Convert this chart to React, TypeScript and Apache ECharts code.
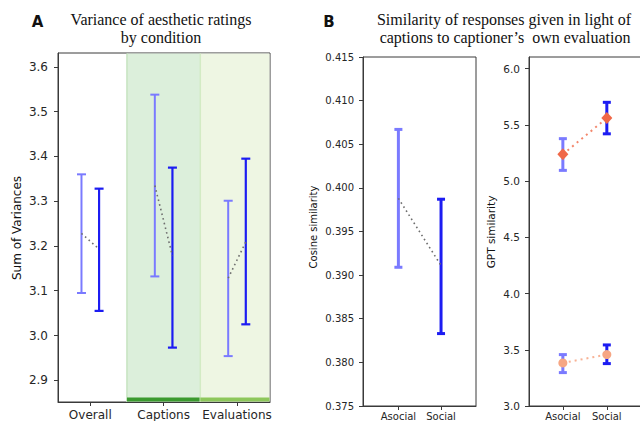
import React, { useEffect, useRef } from 'react';
import * as echarts from 'echarts';

// ---------- Panel A data ----------
const groupsA = ['Overall', 'Captions', 'Evaluations'];
const asocialLowA = [3.095, 3.132, 2.954];
const asocialHighA = [3.36, 3.538, 3.301];
const asocialMeanA = [3.228, 3.335, 3.128];
const socialLowA = [3.055, 2.973, 3.025];
const socialHighA = [3.328, 3.375, 3.395];
const socialMeanA = [3.193, 3.178, 3.209];
const yTicksA = [2.9, 3.0, 3.1, 3.2, 3.3, 3.4, 3.5, 3.6];
const shadedGroupsA = ['Captions', 'Evaluations'];

// ---------- Panel B data ----------
const conditions = ['Asocial', 'Social'];
const cosineLow = [0.3909, 0.3833];
const cosineHigh = [0.4067, 0.3987];
const cosineMean = [0.3988, 0.3911];
const yTicksB = [0.375, 0.38, 0.385, 0.39, 0.395, 0.4, 0.405, 0.41, 0.415];

// ---------- Panel C data ----------
const gptUpperMean = [5.238, 5.56];
const gptUpperLow = [5.095, 5.42];
const gptUpperHigh = [5.377, 5.7];
const gptLowerMean = [3.383, 3.457];
const gptLowerLow = [3.297, 3.377];
const gptLowerHigh = [3.457, 3.543];
const yTicksC = [3.0, 3.5, 4.0, 4.5, 5.0, 5.5, 6.0];

const LIGHT_BLUE = '#7a7aff';
const BLUE = '#1c1cf2';
const AXIS = '#3a3a3a';
const TEXT = '#262626';
const SANS = 'DejaVu Sans';
const SERIF = 'Liberation Serif';

const regionFill = ['#dcefdb', '#eef6e3'];
const regionEdge = ['#c6e4c0', '#d3ebc4'];
const regionStrip = ['#3b9a2f', '#8dc75b'];

function errorBars(gi: number, xs: number[], lows: number[], highs: number[], color: string, width: number, cap: number) {
  return {
    type: 'custom',
    xAxisIndex: gi,
    yAxisIndex: gi,
    z: 3,
    silent: true,
    encode: { x: 0, y: [1, 2] },
    data: xs.map((x, i) => [x, lows[i], highs[i]]),
    renderItem: (params: any, api: any) => {
      const x = api.value(0);
      const lo = api.coord([x, api.value(1)]);
      const hi = api.coord([x, api.value(2)]);
      const st = { stroke: color, lineWidth: width };
      return {
        type: 'group',
        children: [
          { type: 'line', shape: { x1: lo[0], y1: lo[1], x2: hi[0], y2: hi[1] }, style: st },
          { type: 'line', shape: { x1: lo[0] - cap, y1: lo[1], x2: lo[0] + cap, y2: lo[1] }, style: st },
          { type: 'line', shape: { x1: hi[0] - cap, y1: hi[1], x2: hi[0] + cap, y2: hi[1] }, style: st },
        ],
      };
    },
  };
}

function xAxis(gi: number, min: number, max: number, names: string[], fontSize: number, margin: number) {
  const vals = names.map((_, i) => i);
  return {
    gridIndex: gi,
    type: 'value',
    min,
    max,
    splitLine: { show: false },
    axisLine: { show: true, onZero: false, lineStyle: { color: AXIS, width: 1 } },
    axisTick: { show: true, customValues: vals, length: 4, lineStyle: { color: AXIS } },
    axisLabel: {
      customValues: vals,
      formatter: (v: number) => names[Math.round(v)] ?? '',
      fontSize,
      fontFamily: SANS,
      color: TEXT,
      margin,
    },
  };
}

function yAxis(gi: number, min: number, max: number, ticks: number[], digits: number, fontSize: number, margin: number) {
  return {
    gridIndex: gi,
    type: 'value',
    min,
    max,
    splitLine: { show: false },
    axisLine: { show: true, onZero: false, lineStyle: { color: AXIS, width: 1 } },
    axisTick: { show: true, customValues: ticks, length: 4, lineStyle: { color: AXIS } },
    axisLabel: {
      customValues: ticks,
      formatter: (v: number) => v.toFixed(digits),
      fontSize,
      fontFamily: SANS,
      color: TEXT,
      margin,
    },
  };
}

function meanLine(gi: number, pts: number[][], color: string, width: number, extra: any = {}) {
  return {
    type: 'line',
    xAxisIndex: gi,
    yAxisIndex: gi,
    z: 4,
    silent: true,
    symbol: 'none',
    data: pts,
    lineStyle: { color, width, type: [width, width * 2] },
    ...extra,
  };
}

export default function App() {
  const ref = useRef<HTMLDivElement>(null);
  useEffect(() => {
    if (!ref.current) return;
    const chart = echarts.init(ref.current, undefined, { renderer: 'svg' });
    const off = 0.12;
    const regionData = shadedGroupsA.map((g, k) => {
      const i = groupsA.indexOf(g);
      return [i - 0.5, i + 0.5, k];
    });

    const series: any[] = [
      {
        type: 'custom',
        xAxisIndex: 0,
        yAxisIndex: 0,
        z: 1,
        silent: true,
        data: regionData,
        renderItem: (params: any, api: any) => {
          const cs = params.coordSys;
          const k = api.value(2);
          const x0 = Math.max(api.coord([api.value(0), 3])[0], cs.x + 0.5);
          const x1 = Math.min(api.coord([api.value(1), 3])[0], cs.x + cs.width - 0.5);
          return {
            type: 'group',
            children: [
              { type: 'rect', shape: { x: x0, y: cs.y + 0.5, width: x1 - x0, height: cs.height - 1 }, style: { fill: regionFill[k] } },
              { type: 'line', shape: { x1: x0, y1: cs.y + 0.5, x2: x0, y2: cs.y + cs.height }, style: { stroke: regionEdge[k], lineWidth: 1.5 } },
              { type: 'rect', shape: { x: x0, y: cs.y + cs.height - 4.5, width: x1 - x0, height: 4 }, style: { fill: regionStrip[k] } },
            ],
          };
        },
      },
      errorBars(0, groupsA.map((_, i) => i - off), asocialLowA, asocialHighA, LIGHT_BLUE, 2, 4.5),
      errorBars(0, groupsA.map((_, i) => i + off), socialLowA, socialHighA, BLUE, 2.2, 4.5),
      ...groupsA.map((_, i) =>
        meanLine(0, [[i - off, asocialMeanA[i]], [i + off, socialMeanA[i]]], '#6e6e6e', 1.6)
      ),
      errorBars(1, [0], [cosineLow[0]], [cosineHigh[0]], LIGHT_BLUE, 3, 4),
      errorBars(1, [1], [cosineLow[1]], [cosineHigh[1]], BLUE, 3, 4),
      meanLine(1, [[0, cosineMean[0]], [1, cosineMean[1]]], '#6e6e6e', 1.6),
      errorBars(2, [0, 0], [gptUpperLow[0], gptLowerLow[0]], [gptUpperHigh[0], gptLowerHigh[0]], LIGHT_BLUE, 3, 4),
      errorBars(2, [1, 1], [gptUpperLow[1], gptLowerLow[1]], [gptUpperHigh[1], gptLowerHigh[1]], BLUE, 3, 4),
      meanLine(2, [[0, gptUpperMean[0]], [1, gptUpperMean[1]]], '#f3876c', 2, {
        symbol: 'diamond',
        symbolSize: [11, 12],
        showSymbol: true,
        itemStyle: { color: '#f06848' },
        z: 5,
      }),
      meanLine(2, [[0, gptLowerMean[0]], [1, gptLowerMean[1]]], '#f7b295', 2, {
        symbol: 'circle',
        symbolSize: 9,
        showSymbol: true,
        itemStyle: { color: '#f6a684' },
        z: 5,
      }),
    ];

    const gridBase = {
      show: true,
      borderColor: AXIS,
      borderWidth: 1,
      backgroundColor: 'transparent',
      containLabel: false,
      outerBoundsMode: 'none',
    };

    const txt = (text: string, x: number, y: number, font: string, extra: any = {}) => ({
      type: 'text',
      x,
      y,
      silent: true,
      style: { text, font, fill: '#111', align: 'center', verticalAlign: 'middle' },
      ...extra,
    });

    chart.setOption({
      animation: false,
      backgroundColor: '#ffffff',
      grid: [
        { ...gridBase, left: 58, top: 53, width: 212, height: 349 },
        { ...gridBase, left: 363, top: 57, width: 113, height: 349 },
        { ...gridBase, left: 529, top: 57, width: 113, height: 349 },
      ],
      xAxis: [
        xAxis(0, -0.44, 2.45, groupsA, 12, 7),
        xAxis(1, -0.83, 1.82, conditions, 10, 5),
        xAxis(2, -0.77, 1.8, conditions, 10, 5),
      ],
      yAxis: [
        yAxis(0, 2.8515, 3.631, yTicksA, 1, 12, 10),
        yAxis(1, 0.375, 0.415, yTicksB, 3, 10, 9),
        yAxis(2, 3.0, 6.103, yTicksC, 1, 10.5, 9),
      ],
      series,
      graphic: [
        txt('A', 37.5, 22, `bold 15px ${SANS}`),
        txt('Variance of aesthetic ratings', 161, 19, `16px "${SERIF}"`),
        txt('by condition', 161, 37, `16px "${SERIF}"`),
        txt('B', 329, 22, `bold 15px ${SANS}`),
        txt('Similarity of responses given in light of', 504, 19, `16px "${SERIF}"`),
        txt('captions to captioner\u2019s  own evaluation', 505, 37, `16px "${SERIF}"`),
        txt('Sum of Variances', 17, 228, `12px ${SANS}`, { rotation: Math.PI / 2 }),
        txt('Cosine similarity', 313, 227, `10px ${SANS}`, { rotation: Math.PI / 2 }),
        txt('GPT similarity', 491, 232, `10.5px ${SANS}`, { rotation: Math.PI / 2 }),
      ],
    });
    return () => chart.dispose();
  }, []);
  return <div ref={ref} style={{ position: 'absolute', left: 0, top: 0, width: 640, height: 421 }} />;
}
